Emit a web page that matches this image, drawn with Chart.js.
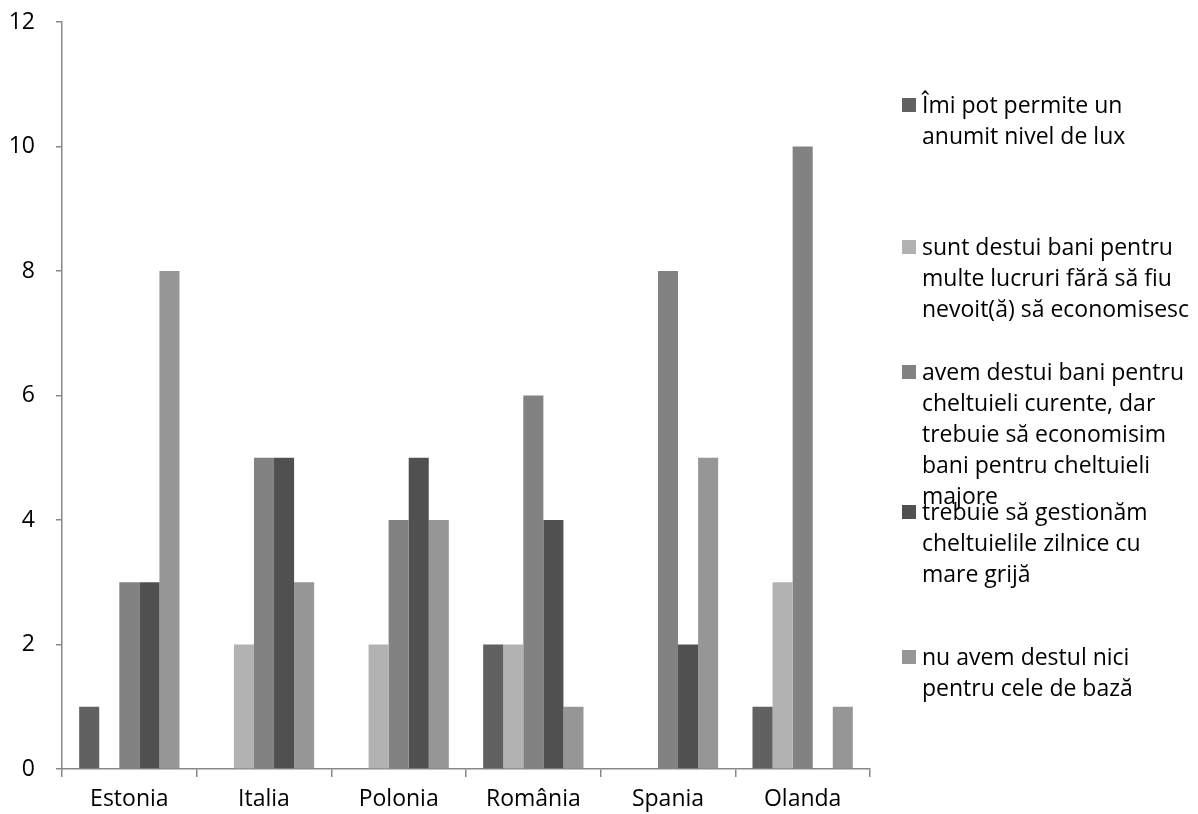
<!DOCTYPE html>
<html>
<head>
<meta charset="utf-8">
<script src="https://cdn.jsdelivr.net/npm/chart.js@4.4.1/dist/chart.umd.min.js"></script>
<style>
  html, body { margin: 0; padding: 0; background: #fff; }
  #wrap { position: relative; width: 1198px; height: 814px; overflow: hidden; }
  #c { position: absolute; left: 0; top: 0; }
  .leg { position: absolute; left: 902px; font-family: "Open Sans", sans-serif; font-size: 23px; line-height: 31px; color: #000; white-space: nowrap; }
  .leg .sw { position: absolute; left: 0; top: 9px; width: 14px; height: 14px; }
  .leg .tx { position: absolute; left: 20px; top: 0; }
</style>
</head>
<body>
<div id="wrap">
  <canvas id="c" width="1198" height="814"></canvas>
  <div id="legend"></div>
</div>
<script>
const categories = ["Estonia", "Italia", "Polonia", "România", "Spania", "Olanda"];
const seriesNames = [
  ["Îmi pot permite un", "anumit nivel de lux"],
  ["sunt destui bani pentru", "multe lucruri fără să fiu", "nevoit(ă) să economisesc"],
  ["avem destui bani pentru", "cheltuieli curente, dar", "trebuie să economisim", "bani pentru cheltuieli", "majore"],
  ["trebuie să gestionăm", "cheltuielile zilnice cu", "mare grijă"],
  ["nu avem destul nici", "pentru cele de bază"]
];
const luxury   = [1, 0, 0, 2, 0, 1];
const enough   = [0, 2, 2, 2, 0, 3];
const saveMaj  = [3, 5, 4, 6, 8, 10];
const careful  = [3, 5, 5, 4, 2, 0];
const notBasic = [8, 3, 4, 1, 5, 1];
const yTicks = [0, 2, 4, 6, 8, 10, 12];
const colors = ["#616161", "#b2b2b2", "#828282", "#505050", "#969696"];
const legendTops = [89, 231, 356, 496, 641];

const values = [luxury, enough, saveMaj, careful, notBasic];
const datasets = values.map((v, i) => ({
  label: seriesNames[i].join(" "),
  data: v,
  backgroundColor: colors[i],
  borderWidth: 0,
  barPercentage: 1.0,
  categoryPercentage: 0.745
}));

const axisColor = "#888888";
const tickFont = { family: "'Open Sans', sans-serif", size: 23 };
new Chart(document.getElementById("c"), {
  type: "bar",
  data: { labels: categories, datasets },
  options: {
    responsive: false,
    animation: false,
    layout: { padding: { left: 0, right: 328, top: 22, bottom: 0 } },
    plugins: { legend: { display: false }, tooltip: { enabled: false } },
    scales: {
      x: {
        grid: { display: true, drawOnChartArea: false, drawTicks: true, tickLength: 8, color: axisColor, lineWidth: 1.5, offset: true },
        border: { color: axisColor, width: 1.5 },
        ticks: { color: "#000", font: tickFont, padding: 9 },
        afterFit: (s) => { s.height = 45; s.paddingLeft = 0; s.paddingRight = 0; }
      },
      y: {
        min: 0, max: 12,
        afterBuildTicks: (s) => { s.ticks = yTicks.map(v => ({ value: v })); },
        grid: { display: true, drawOnChartArea: false, drawTicks: true, tickLength: 6, color: axisColor, lineWidth: 1.5 },
        border: { color: axisColor, width: 1.5 },
        ticks: { color: "#000", font: tickFont, padding: 21 },
        afterFit: (s) => { s.width = 62; s.paddingTop = 0; s.paddingBottom = 0; }
      }
    }
  }
});

const lg = document.getElementById("legend");
seriesNames.forEach((lines, i) => {
  const d = document.createElement("div");
  d.className = "leg";
  d.style.top = legendTops[i] + "px";
  const sw = document.createElement("div");
  sw.className = "sw";
  sw.style.background = colors[i];
  const tx = document.createElement("div");
  tx.className = "tx";
  tx.innerHTML = lines.join("<br>");
  d.appendChild(sw); d.appendChild(tx);
  lg.appendChild(d);
});
</script>
</body>
</html>
